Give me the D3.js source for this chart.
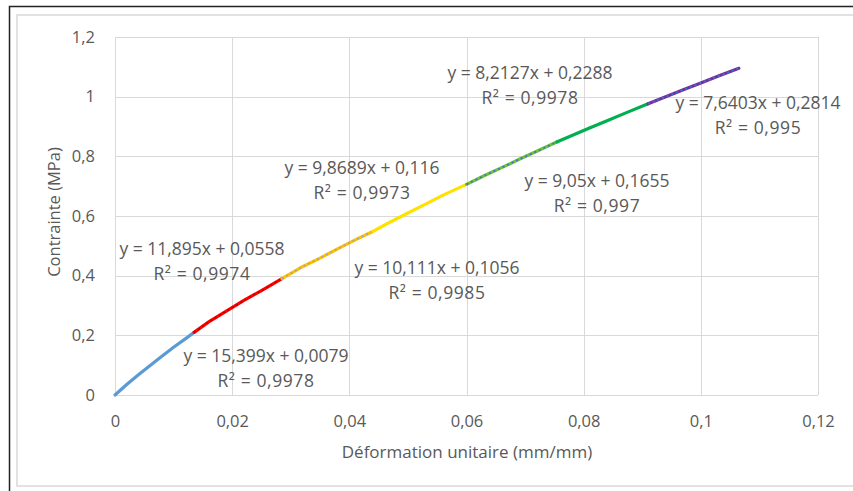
<!DOCTYPE html>
<html>
<head>
<meta charset="utf-8">
<script src="https://cdn.jsdelivr.net/npm/d3@7/dist/d3.min.js"></script>
<style>
  body { margin: 0; background: #fff; }
  text { font-family: "Open Sans", sans-serif; fill: #595959; }
</style>
</head>
<body>
<div id="chart"></div>
<script>
// tick values
var xTicks = [0, 0.02, 0.04, 0.06, 0.08, 0.1, 0.12];
var yTicks = [0, 0.2, 0.4, 0.6, 0.8, 1, 1.2];

// measured points, one array per colored segment  [strain, stress]
var seg1 = [[0,0],[0.002,0.035],[0.004,0.068],[0.006,0.099],[0.008,0.13],[0.010,0.16],[0.012,0.188],[0.0135,0.21]];
var seg2 = [[0.0135,0.21],[0.016,0.245],[0.019,0.281],[0.022,0.317],[0.025,0.35],[0.0285,0.39]];
var seg3 = [[0.0285,0.39],[0.032,0.43],[0.035,0.459],[0.038,0.49],[0.041,0.52],[0.044,0.548]];
var seg4 = [[0.044,0.548],[0.047,0.58],[0.050,0.61],[0.053,0.64],[0.056,0.67],[0.060,0.706]];
var seg5 = [[0.060,0.706],[0.063,0.735],[0.066,0.762],[0.069,0.79],[0.072,0.817],[0.0754,0.848]];
var seg6 = [[0.0754,0.848],[0.078,0.87],[0.081,0.895],[0.084,0.919],[0.087,0.944],[0.091,0.976]];
var seg7 = [[0.091,0.976],[0.094,1.0],[0.097,1.023],[0.100,1.046],[0.103,1.069],[0.1065,1.095]];

// trendline labels
var eqLabels = ["y = 15,399x + 0,0079", "y = 11,895x + 0,0558", "y = 10,111x + 0,1056", "y = 9,8689x + 0,116",
                "y = 9,05x + 0,1655", "y = 8,2127x + 0,2288", "y = 7,6403x + 0,2814"];
var r2Labels = ["R² = 0,9978", "R² = 0,9974", "R² = 0,9985", "R² = 0,9973", "R² = 0,997", "R² = 0,9978", "R² = 0,995"];

var segments = [seg1, seg2, seg3, seg4, seg5, seg6, seg7];
var markerColors = ["#5b9bd5", "#ff0000", "#ffc000", "#ffe100", "#70c040", "#00b050", "#7030a0"];
var trendColors  = ["#5b9bd5", "#c00000", "#a5a5a5", "#ffe100", "#4472c4", "#00b050", "#4472c4"];
// label centres in pixels [x, y of first line]
var labelPos = [[266, 356], [202, 249], [437, 268], [362, 168], [597, 181], [530, 73], [758, 103]];

var W = 853, H = 491;
var pLeft = 115, pRight = 818, pTop = 37, pBottom = 395;

var svg = d3.select("#chart").append("svg")
    .attr("width", W)
    .attr("height", H);

// frames
svg.append("rect")
    .attr("x", 17).attr("y", 15)
    .attr("width", 850).attr("height", 471)
    .attr("fill", "none").attr("stroke", "#d9d9d9").attr("stroke-width", 1.5);
svg.append("path")
    .attr("d", "M9.5," + H + "V6.5H" + W)
    .attr("fill", "none").attr("stroke", "#222").attr("stroke-width", 1.5);

var x = d3.scaleLinear().domain([0, 0.12]).range([pLeft, pRight]);
var y = d3.scaleLinear().domain([0, 1.2]).range([pBottom, pTop]);

var fmt = function(v) { return d3.format("~g")(+v.toFixed(2)).replace(".", ","); };

// gridlines
svg.append("g").selectAll("line").data(yTicks).enter().append("line")
    .attr("x1", pLeft).attr("x2", pRight)
    .attr("y1", function(d) { return Math.round(y(d)) + 0.5; })
    .attr("y2", function(d) { return Math.round(y(d)) + 0.5; })
    .attr("stroke", "#d9d9d9");
svg.append("g").selectAll("line").data(xTicks).enter().append("line")
    .attr("y1", pTop).attr("y2", pBottom)
    .attr("x1", function(d) { return Math.round(x(d)) + 0.5; })
    .attr("x2", function(d) { return Math.round(x(d)) + 0.5; })
    .attr("stroke", "#d9d9d9");

// axes (labels only, Excel style)
var xAxis = svg.append("g")
    .attr("transform", "translate(0," + pBottom + ")")
    .call(d3.axisBottom(x).tickValues(xTicks).tickFormat(fmt).tickSize(0).tickPadding(20));
var yAxis = svg.append("g")
    .attr("transform", "translate(" + pLeft + ",0)")
    .call(d3.axisLeft(y).tickValues(yTicks).tickFormat(fmt).tickSize(0).tickPadding(20));
[xAxis, yAxis].forEach(function(a) {
    a.select(".domain").remove();
    a.selectAll("text").style("font-size", "16.5px").style("fill", "#595959")
     .style("font-family", "'Open Sans', sans-serif");
});

// axis titles
svg.append("text")
    .attr("x", 467).attr("y", 458)
    .attr("text-anchor", "middle")
    .style("font-size", "17px")
    .text("Déformation unitaire (mm/mm)");
svg.append("text")
    .attr("transform", "translate(60,212) rotate(-90)")
    .attr("text-anchor", "middle")
    .style("font-size", "16.5px")
    .text("Contrainte (MPa)");

var line = d3.line()
    .x(function(d) { return x(d[0]); })
    .y(function(d) { return y(d[1]); });

// data markers (dense, drawn as thick line) and trendlines
segments.forEach(function(s, i) {
    svg.append("path")
        .attr("d", line(s))
        .attr("fill", "none")
        .attr("stroke", markerColors[i])
        .attr("stroke-width", 3.2)
        .attr("stroke-linecap", "round");
    svg.append("path")
        .attr("d", line(s))
        .attr("fill", "none")
        .attr("stroke", trendColors[i])
        .attr("stroke-width", 1.8)
        .attr("stroke-dasharray", "2,3");
});

// trendline equations
labelPos.forEach(function(p, i) {
    svg.append("text")
        .attr("x", p[0]).attr("y", p[1] + 6)
        .attr("text-anchor", "middle")
        .style("font-size", "17.5px")
        .text(eqLabels[i]);
    svg.append("text")
        .attr("x", p[0]).attr("y", p[1] + 31)
        .attr("text-anchor", "middle")
        .style("font-size", "17.5px")
        .style("letter-spacing", "0.6px")
        .text(r2Labels[i]);
});
</script>
</body>
</html>
